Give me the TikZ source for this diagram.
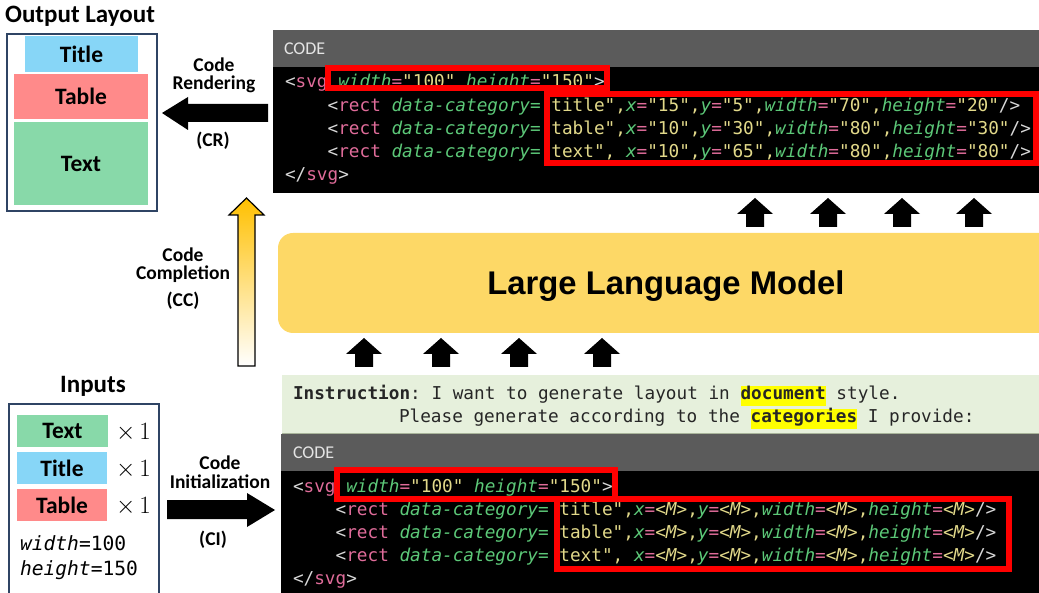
\documentclass[tikz,border=0pt]{standalone}
\usepackage{fontspec}
\setmainfont{Carlito}
\setmonofont{DejaVu Sans Mono}
\newfontfamily\llmfont{Liberation Sans}
\usepackage{xcolor}
\definecolor{hdrgray}{HTML}{5B5B5B}
\definecolor{instbg}{HTML}{E6F0DC}
\definecolor{instline}{HTML}{A8B49A}
\definecolor{llmyel}{HTML}{FDD866}
\definecolor{titleblue}{HTML}{87D6F7}
\definecolor{tablered}{HTML}{FF8A8A}
\definecolor{textgreen}{HTML}{88D9A9}
\definecolor{boxblue}{HTML}{2F4464}
\definecolor{tagc}{HTML}{E06C9A}
\definecolor{attrc}{HTML}{5CC878}
\definecolor{valc}{HTML}{E2D98A}
\definecolor{punc}{HTML}{D8D8D8}
\definecolor{ccorange}{HTML}{FFC000}
\definecolor{hlyellow}{HTML}{FFFF00}
\definecolor{codehdr}{HTML}{E4E4E4}
\newcommand\cdTag[1]{\textcolor{tagc}{#1}}
\newcommand\cdAttr[1]{\textcolor{attrc}{\itshape #1}}
\newcommand\cdVal[1]{\textcolor{valc}{#1}}
\newcommand\cdPun[1]{\textcolor{punc}{#1}}
\newcommand\cdEq{\textcolor{tagc}{=}}
\newcommand\cdM{\cdVal{<{\itshape M}>}}
\newcommand\hlword[1]{{\setlength{\fboxsep}{0pt}\colorbox{hlyellow}{\strut\textbf{#1}}}}
\begin{document}
\begin{tikzpicture}[x=1pt,y=-1pt,
  every node/.style={inner sep=0pt,outer sep=0pt},
  lbl/.style={font=\fontsize{19.5}{20}\selectfont\bfseries,anchor=base},
  heading/.style={font=\fontsize{25}{26}\selectfont\bfseries,anchor=base},
  cat/.style={font=\fontsize{23.5}{24}\selectfont\bfseries},
  codeln/.style={anchor=base west,font=\fontsize{17.7}{20}\selectfont\ttfamily},
  codehead/.style={anchor=base west,text=codehdr,font=\fontsize{18}{19}\selectfont},
  redbox/.style={draw=red,line width=6pt},
  bigarrow/.style={fill=black},
  smallarrow/.style={fill=black},
  times/.style={anchor=base west,font=\fontsize{25}{26}\selectfont},
  monoin/.style={anchor=base west,font=\fontsize{19.6}{22}\selectfont\ttfamily}
]
\useasboundingbox (0,0) rectangle (1039,593);

% ---------- Output layout ----------
\node[heading] (outtitle) at (80,23) {Output Layout};
\draw[boxblue,line width=1.5pt] (7,34) rectangle (157,211);
\fill[titleblue] (25,36) rectangle (138,72);
\node[cat] (otitle) at (81.5,54) {Title};
\fill[tablered] (14,74) rectangle (148,119);
\node[cat] (otable) at (81,96.5) {Table};
\fill[textgreen] (14,122) rectangle (148,205);
\node[cat] (otext) at (81,163.5) {Text};

% ---------- Code rendering arrow ----------
\coordinate (crtail) at (268,113);
\coordinate (crtip) at (162,113);
\fill[bigarrow] (crtip) -- (188,97) -- (188,104) -- (268,104) -- (268,122) -- (188,122) -- (188,130) -- cycle;
\node[lbl] (cr1) at (214,72) {Code};
\node[lbl] (cr2) at (214,90) {Rendering};
\node[lbl] (cr3) at (213,147) {(CR)};

% ---------- Top code box ----------
\fill[hdrgray] (273,30) rectangle (1039,67);
\fill[black] (273,67) rectangle (1039,193);
\node[codehead] (code1) at (284,55) {CODE};
\node[codeln] (t1) at (285,88) {\cdPun{<}\cdTag{svg} \cdAttr{width}\cdEq\cdVal{"100"} \cdAttr{height}\cdEq\cdVal{"150"}\cdPun{>}};
\node[codeln] (t2) at (285,112) {\hphantom{xxxx}\cdPun{<}\cdTag{rect} \cdAttr{data-category=} \cdVal{title",}\cdAttr{x}\cdEq\cdVal{"15",}\cdAttr{y}\cdEq\cdVal{"5",}\cdAttr{width}\cdEq\cdVal{"70",}\cdAttr{height}\cdEq\cdVal{"20"}\cdPun{/>}};
\node[codeln] (t3) at (285,135) {\hphantom{xxxx}\cdPun{<}\cdTag{rect} \cdAttr{data-category=} \cdVal{table",}\cdAttr{x}\cdEq\cdVal{"10",}\cdAttr{y}\cdEq\cdVal{"30",}\cdAttr{width}\cdEq\cdVal{"80",}\cdAttr{height}\cdEq\cdVal{"30"}\cdPun{/>}};
\node[codeln] (t4) at (285,158) {\hphantom{xxxx}\cdPun{<}\cdTag{rect} \cdAttr{data-category=} \cdVal{text", }\cdAttr{x}\cdEq\cdVal{"10",}\cdAttr{y}\cdEq\cdVal{"65",}\cdAttr{width}\cdEq\cdVal{"80",}\cdAttr{height}\cdEq\cdVal{"80"}\cdPun{/>}};
\node[codeln] (t5) at (285,181) {\cdPun{</}\cdTag{svg}\cdPun{>}};
\draw[redbox] (328,68.5) rectangle (606.5,88.5);
\draw[redbox] (546.5,94) rectangle (1036,163.5);

% ---------- arrows from LLM to code ----------
\foreach \ax in {755,828,902,974}{
  \fill[smallarrow] (\ax-18,214) -- (\ax,198) -- (\ax+18,214) -- (\ax+9,214) -- (\ax+9,227) -- (\ax-9,227) -- (\ax-9,214) -- cycle;
}

% ---------- LLM ----------
\fill[llmyel,rounded corners=15pt] (278,233) rectangle (1070,333);
\node[anchor=base,font=\fontsize{32.8}{34}\selectfont\llmfont\bfseries] (llm) at (666,295) {Large Language Model};

% ---------- arrows into LLM ----------
\foreach \ax in {364,441,519,602}{
  \fill[smallarrow] (\ax-18,354) -- (\ax,338) -- (\ax+18,354) -- (\ax+9,354) -- (\ax+9,367) -- (\ax-9,367) -- (\ax-9,354) -- cycle;
}

% ---------- Code completion arrow ----------
\path[top color=ccorange,bottom color=white,draw=black,line width=1.2pt]
  (246.5,198) -- (264,215) -- (255,215) -- (255,366) -- (238,366) -- (238,215) -- (229,215) -- cycle;
\node[lbl] (cc1) at (183,262) {Code};
\node[lbl] (cc2) at (183,280) {Completion};
\node[lbl] (cc3) at (183,307) {(CC)};

% ---------- Instruction ----------
\fill[instbg] (282,375) rectangle (1039,434);
\draw[instline,line width=1pt] (282,433.5) -- (1039,433.5);
\node[codeln,text=black!85] (ins1) at (293,400) {\textbf{Instruction}: I want to generate layout in \hlword{document} style.};
\node[codeln,text=black!85] (ins2) at (399,423) {Please generate according to the \hlword{categories} I provide:};

% ---------- Bottom code box ----------
\fill[hdrgray] (281,434) rectangle (1039,471);
\fill[black] (281,471) rectangle (1039,593);
\node[codehead] (code2) at (293,458) {CODE};
\node[codeln] (b1) at (293,492) {\cdPun{<}\cdTag{svg} \cdAttr{width}\cdEq\cdVal{"100"} \cdAttr{height}\cdEq\cdVal{"150"}\cdPun{>}};
\node[codeln] (b2) at (293,515) {\hphantom{xxxx}\cdPun{<}\cdTag{rect} \cdAttr{data-category=} \cdVal{title",}\cdAttr{x}\cdEq\cdM\cdVal{,}\cdAttr{y}\cdEq\cdM\cdVal{,}\cdAttr{width}\cdEq\cdM\cdVal{,}\cdAttr{height}\cdEq\cdM\cdPun{/>}};
\node[codeln] (b3) at (293,538) {\hphantom{xxxx}\cdPun{<}\cdTag{rect} \cdAttr{data-category=} \cdVal{table",}\cdAttr{x}\cdEq\cdM\cdVal{,}\cdAttr{y}\cdEq\cdM\cdVal{,}\cdAttr{width}\cdEq\cdM\cdVal{,}\cdAttr{height}\cdEq\cdM\cdPun{/>}};
\node[codeln] (b4) at (293,561) {\hphantom{xxxx}\cdPun{<}\cdTag{rect} \cdAttr{data-category=} \cdVal{text", }\cdAttr{x}\cdEq\cdM\cdVal{,}\cdAttr{y}\cdEq\cdM\cdVal{,}\cdAttr{width}\cdEq\cdM\cdVal{,}\cdAttr{height}\cdEq\cdM\cdPun{/>}};
\node[codeln] (b5) at (293,584) {\cdPun{</}\cdTag{svg}\cdPun{>}};
\draw[redbox] (336.5,470) rectangle (615,498.5);
\draw[redbox] (556.5,498.5) rectangle (1008.5,568.5);

% ---------- Inputs ----------
\node[heading] (intitle) at (93,393) {Inputs};
\draw[boxblue,line width=1.5pt] (9,404) rectangle (159,610);
\fill[textgreen] (17,415) rectangle (108,447);
\node[cat] (itext) at (62.5,431) {Text};
\fill[titleblue] (17,452) rectangle (107,484);
\node[cat] (ititle) at (62,468) {Title};
\fill[tablered] (17,489) rectangle (107,521);
\node[cat] (itable) at (62,505) {Table};
\node[times] (x1) at (116,439) {$\times\,1$};
\node[times] (x2) at (116,476) {$\times\,1$};
\node[times] (x3) at (116,513) {$\times\,1$};
\node[monoin] (iw) at (20,550) {{\itshape width}=100};
\node[monoin] (ih) at (20,575) {{\itshape height}=150};

% ---------- Code initialization arrow ----------
\fill[bigarrow] (167,500) -- (247,500) -- (247,493) -- (275,510) -- (247,527) -- (247,519) -- (167,519) -- cycle;
\node[lbl] (ci1) at (220,469) {Code};
\node[lbl] (ci2) at (220,488) {Initialization};
\node[lbl] (ci3) at (213,545) {(CI)};
\end{tikzpicture}
\end{document}
